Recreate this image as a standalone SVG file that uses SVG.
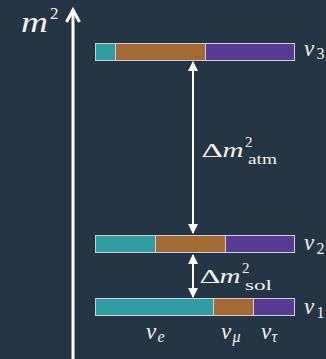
<svg xmlns="http://www.w3.org/2000/svg" width="326" height="359" viewBox="0 0 326 359">
<defs>
<style>
text{font-family:'Liberation Serif','DejaVu Serif',serif;fill:#f2f2f2}
.t{font-style:italic}
.r{font-style:normal}
.bar{stroke:#d0d0d0;stroke-width:1}
.e{fill:#2f9da2}.m{fill:#a36a36}.u{fill:#583b92}
.ln{stroke:#ffffff;stroke-width:2;fill:none}
</style>
<marker id="ah" viewBox="0 0 10 10" refX="9" refY="5" markerWidth="5" markerHeight="5" orient="auto-start-reverse" markerUnits="strokeWidth">
<path d="M0,0 L10,5 L0,10 z" fill="#ffffff"/>
</marker>
</defs>
<rect width="326" height="359" fill="#243545"/>
<g id="axis">
<line x1="73" y1="359" x2="73" y2="12" stroke="#ffffff" stroke-width="3"/>
<path d="M66.5,22 L73,10 L79.5,22" fill="none" stroke="#ffffff" stroke-width="3" stroke-linejoin="miter"/>
<text class="t" x="21" y="31.5" font-size="30" textLength="27" lengthAdjust="spacingAndGlyphs">m</text>
<text class="r" x="50" y="18.5" font-size="17">2</text>
</g>
<g id="connectors">
<line class="ln" x1="193" y1="62" x2="193" y2="233" marker-start="url(#ah)" marker-end="url(#ah)"/>
<line class="ln" x1="193" y1="255" x2="193" y2="297" marker-start="url(#ah)" marker-end="url(#ah)"/>
</g>
<g id="nu3">
<rect class="e" x="95.5" y="43.5" width="20" height="17"/>
<rect class="m" x="115.5" y="43.5" width="90" height="17"/>
<rect class="u" x="205.5" y="43.5" width="89" height="17"/>
<rect class="bar" x="95.5" y="43.5" width="199" height="17" fill="none"/>
<line class="bar" x1="115.5" y1="43.5" x2="115.5" y2="60.5"/>
<line class="bar" x1="205.5" y1="43.5" x2="205.5" y2="60.5"/>
<text class="t" x="304" y="55.5" font-size="23">ν</text>
<text class="r" x="316.5" y="59" font-size="16">3</text>
</g>
<g id="nu2">
<rect class="e" x="95.5" y="235.5" width="60" height="17"/>
<rect class="m" x="155.5" y="235.5" width="70" height="17"/>
<rect class="u" x="225.5" y="235.5" width="69" height="17"/>
<rect class="bar" x="95.5" y="235.5" width="199" height="17" fill="none"/>
<line class="bar" x1="155.5" y1="235.5" x2="155.5" y2="252.5"/>
<line class="bar" x1="225.5" y1="235.5" x2="225.5" y2="252.5"/>
<text class="t" x="304" y="250" font-size="23">ν</text>
<text class="r" x="316.5" y="254" font-size="16">2</text>
</g>
<g id="nu1">
<rect class="e" x="95.5" y="298.5" width="118" height="17"/>
<rect class="m" x="213.5" y="298.5" width="40" height="17"/>
<rect class="u" x="253.5" y="298.5" width="41" height="17"/>
<rect class="bar" x="95.5" y="298.5" width="199" height="17" fill="none"/>
<line class="bar" x1="213.5" y1="298.5" x2="213.5" y2="315.5"/>
<line class="bar" x1="253.5" y1="298.5" x2="253.5" y2="315.5"/>
<text class="t" x="304" y="314" font-size="23">ν</text>
<text class="r" x="316.5" y="318" font-size="16">1</text>
</g>
<g id="label-atm">
<text class="r" x="201.5" y="157" font-size="19" textLength="21.5" lengthAdjust="spacingAndGlyphs">Δ</text>
<text class="t" x="222.5" y="157" font-size="21" textLength="21" lengthAdjust="spacingAndGlyphs">m</text>
<text class="r" x="245" y="146.5" font-size="15">2</text>
<text class="r" x="248" y="163.5" font-size="14" textLength="29" lengthAdjust="spacingAndGlyphs">atm</text>
</g>
<g id="label-sol">
<text class="r" x="199.5" y="283" font-size="19" textLength="21" lengthAdjust="spacingAndGlyphs">Δ</text>
<text class="t" x="219.5" y="283" font-size="21" textLength="21" lengthAdjust="spacingAndGlyphs">m</text>
<text class="r" x="242" y="272.5" font-size="15">2</text>
<text class="r" x="245" y="289.5" font-size="14" textLength="27" lengthAdjust="spacingAndGlyphs">sol</text>
</g>
<g id="flavours">
<text class="t" x="146" y="338.5" font-size="23">ν</text>
<text class="t" x="157.5" y="341.5" font-size="16">e</text>
<text class="t" x="221" y="338.5" font-size="23">ν</text>
<text class="t" x="232.5" y="341.5" font-size="16">μ</text>
<text class="t" x="261" y="338.5" font-size="23">ν</text>
<text class="t" x="271.5" y="341.5" font-size="16">τ</text>
</g>
</svg>
